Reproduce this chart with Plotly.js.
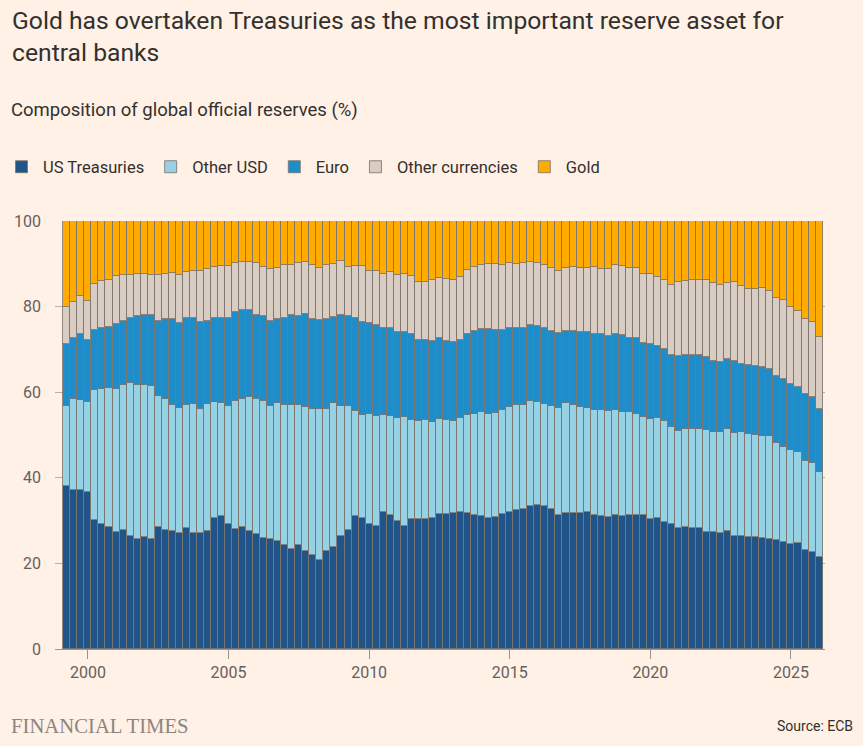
<!DOCTYPE html>
<html>
<head>
<meta charset="utf-8">
<script src="https://cdn.plot.ly/plotly-3.0.1.min.js"></script>
<style>
  html, body { margin: 0; padding: 0; background: #FFF1E5; }
  #chart { width: 863px; height: 746px; }
</style>
</head>
<body>
<div id="chart"></div>
<script>
// Quarterly data, 1999 Q1 to 2025 Q4 (shares of global official reserves, %)
const firstYear = 1999;
const nQuarters = 108;

const usTreasuries = [
  38.0, 37.1, 37.2, 36.6, 30.1, 29.3, 28.6, 27.4, 27.7, 26.3, 25.8, 26.2,
  25.6, 28.5, 27.8, 27.5, 27.1, 28.2, 27.2, 27.1, 27.5, 30.7, 31.0, 29.1,
  28.0, 28.5, 27.6, 26.8, 26.0, 25.7, 25.3, 24.4, 23.3, 24.2, 23.0, 21.9,
  20.8, 22.8, 23.8, 26.3, 27.9, 31.0, 30.5, 29.2, 28.7, 31.9, 31.2, 29.9,
  28.7, 30.3, 30.3, 30.3, 30.5, 31.6, 31.6, 31.7, 32.0, 31.7, 31.3, 31.0,
  30.7, 30.8, 31.5, 32.0, 32.5, 32.8, 33.5, 33.7, 33.3, 32.7, 31.3, 31.7,
  31.7, 31.7, 31.9, 31.3, 31.0, 30.9, 31.4, 31.0, 31.3, 31.4, 31.2, 30.3,
  30.5, 29.7, 29.1, 28.2, 28.6, 28.3, 28.2, 27.4, 27.4, 27.2, 27.5, 26.4,
  26.5, 26.2, 26.2, 25.9, 25.7, 25.4, 25.0, 24.5, 24.7, 23.2, 22.6, 21.5
];
const otherUSD = [
  18.8, 21.3, 21.0, 21.0, 30.3, 31.5, 32.3, 33.3, 34.0, 35.9, 36.0, 35.6,
  35.8, 30.6, 30.6, 29.4, 29.3, 28.7, 30.0, 29.0, 29.8, 27.0, 26.5, 27.6,
  29.9, 30.0, 31.2, 31.6, 31.9, 31.1, 32.1, 32.6, 33.7, 32.8, 33.6, 34.2,
  35.2, 33.3, 33.6, 30.5, 28.9, 24.6, 24.2, 25.6, 25.8, 22.8, 23.2, 24.1,
  25.4, 23.2, 23.0, 23.3, 22.6, 22.2, 21.8, 21.5, 21.9, 23.0, 23.7, 24.4,
  24.3, 24.3, 24.4, 24.5, 24.6, 24.2, 24.4, 24.1, 23.9, 24.1, 25.0, 25.7,
  25.4, 24.8, 24.4, 24.5, 24.8, 24.7, 24.4, 24.4, 24.0, 23.5, 23.1, 23.4,
  23.5, 23.6, 22.8, 22.8, 22.9, 23.1, 23.3, 23.8, 23.2, 23.6, 24.0, 24.1,
  24.3, 24.1, 23.9, 23.8, 24.0, 22.7, 22.2, 22.1, 21.4, 20.7, 20.8, 19.8
];
const euro = [
  14.5, 14.3, 15.3, 14.6, 14.1, 14.3, 14.3, 15.3, 15.0, 15.1, 15.9, 16.2,
  16.7, 17.6, 18.6, 20.1, 19.8, 20.5, 20.2, 20.4, 19.4, 19.6, 19.9, 20.7,
  20.9, 20.6, 20.3, 19.7, 19.8, 19.9, 19.8, 20.4, 21.1, 20.9, 21.7, 21.1,
  20.9, 21.0, 20.1, 21.3, 20.9, 21.7, 21.8, 21.4, 21.1, 20.3, 20.6, 20.0,
  20.0, 20.1, 19.0, 18.6, 18.8, 18.9, 18.6, 18.6, 18.3, 18.9, 19.2, 19.4,
  19.7, 19.5, 18.7, 18.5, 17.9, 18.0, 17.9, 17.6, 17.9, 17.5, 17.5, 17.0,
  17.1, 17.6, 17.7, 17.8, 17.8, 17.5, 17.7, 18.0, 17.4, 17.7, 17.3, 17.5,
  16.9, 16.8, 16.8, 17.5, 17.2, 17.3, 17.2, 17.1, 16.6, 16.3, 16.2, 16.9,
  15.9, 16.0, 16.0, 16.2, 15.8, 15.6, 15.8, 15.3, 15.2, 15.7, 15.5, 14.8
];
const otherCurrencies = [
   8.6,  8.3,  9.0,  9.0, 10.8, 10.9, 11.1, 11.1, 10.7, 10.1,  9.9,  9.6,
   9.2, 10.7, 10.6, 10.8, 11.1, 10.7, 10.9, 11.8, 12.1, 12.0, 12.0, 12.1,
  11.4, 11.4, 11.4, 12.0, 11.6, 12.0, 11.9, 12.3, 11.7, 12.2, 12.2, 12.5,
  12.1, 12.6, 12.5, 12.5, 11.6, 12.1, 12.9, 12.1, 12.7, 12.6, 13.1, 13.3,
  13.5, 13.5, 13.4, 13.6, 14.2, 14.0, 14.5, 14.4, 14.7, 14.9, 15.1, 15.0,
  15.2, 15.3, 15.1, 15.1, 15.0, 15.1, 14.6, 14.9, 14.6, 14.7, 14.6, 14.7,
  15.0, 14.9, 15.0, 15.7, 15.3, 15.8, 16.2, 16.0, 16.3, 16.4, 16.1, 16.5,
  16.0, 16.1, 16.4, 17.2, 17.3, 17.4, 17.5, 18.0, 18.3, 17.9, 17.8, 18.4,
  18.1, 17.9, 18.1, 18.5, 18.2, 18.3, 18.6, 18.1, 17.7, 17.5, 17.4, 16.9
];
const gold = [
  20.1, 19.0, 17.5, 18.8, 14.7, 14.0, 13.7, 12.9, 12.6, 12.6, 12.4, 12.4,
  12.7, 12.6, 12.4, 12.2, 12.7, 11.9, 11.7, 11.7, 11.2, 10.7, 10.6, 10.5,
   9.8,  9.5,  9.5,  9.9, 10.7, 11.3, 10.9, 10.3, 10.2,  9.9,  9.5, 10.3,
  11.0, 10.3, 10.0,  9.4, 10.7, 10.6, 10.6, 11.7, 11.7, 12.4, 11.9, 12.7,
  12.4, 12.9, 14.3, 14.2, 13.9, 13.3, 13.5, 13.8, 13.1, 11.5, 10.7, 10.2,
  10.1, 10.1, 10.3,  9.9, 10.0,  9.9,  9.6,  9.7, 10.3, 11.0, 11.6, 10.9,
  10.8, 11.0, 11.0, 10.7, 11.1, 11.1, 10.3, 10.6, 11.0, 11.0, 12.3, 12.3,
  13.1, 13.8, 14.9, 14.3, 14.0, 13.9, 13.8, 13.7, 14.5, 15.0, 14.5, 14.2,
  15.2, 15.8, 15.8, 15.6, 16.3, 18.0, 18.4, 20.0, 21.0, 22.9, 23.7, 27.0
];

const seriesNames = ['US Treasuries', 'Other USD', 'Euro', 'Other currencies', 'Gold'];
const seriesColors = ['#215488', '#96D2E4', '#1F8DCA', '#D8CCC3', '#FFAB00'];
const seriesData = [usTreasuries, otherUSD, euro, otherCurrencies, gold];
const xTickVals = [2000, 2005, 2010, 2015, 2020, 2025];
const yTickVals = [0, 20, 40, 60, 80, 100];

// x position of each quarter = end of the quarter (fractional year)
const xPos = [];
const qLabels = [];
for (let i = 0; i < nQuarters; i++) {
  const y = firstYear + Math.floor(i / 4);
  const q = (i % 4) + 1;
  xPos.push(y + q * 0.25);
  qLabels.push(y + ' Q' + q);
}

const traces = seriesNames.map((name, k) => ({
  type: 'bar',
  name: name,
  x: xPos,
  y: seriesData[k],
  width: 0.25,
  text: qLabels,
  hovertemplate: '%{text}<br>' + name + ': %{y:.1f}%<extra></extra>',
  textposition: 'none',
  marker: { color: seriesColors[k], line: { color: 'rgba(125,118,112,0.85)', width: 1 } }
}));

const W = 863, H = 746;
const L = 55, R = 38, T = 221, B = 97;
const PW = W - L - R, PH = H - T - B;
const px = v => (v - L) / PW;          // pixel x -> paper x
const py = v => (H - B - v) / PH;      // pixel y -> paper y

const layout = {
  width: W, height: H,
  paper_bgcolor: '#FFF1E5', plot_bgcolor: '#FFF1E5',
  margin: { l: L, r: R, t: T, b: B, pad: 0, autoexpand: false },
  barmode: 'stack', bargap: 0,
  font: { family: 'Roboto, sans-serif', color: '#33302E' },
  title: {
    text: 'Gold has overtaken Treasuries as the most important reserve asset for<br>central banks',
    font: { family: 'Roboto, sans-serif', size: 24.7, color: '#33302E' },
    xref: 'container', yref: 'container', x: 12 / W, xanchor: 'left',
    y: 1 - 29 / H, yanchor: 'top'
  },
  showlegend: true,
  legend: {
    orientation: 'h', traceorder: 'normal',
    xref: 'container', yref: 'container',
    x: 0, xanchor: 'left', y: 1 - 167 / H, yanchor: 'middle',
    itemwidth: 33,
    font: { size: 16.5, color: '#33302E' },
    bgcolor: 'rgba(0,0,0,0)'
  },
  xaxis: {
    range: [1998.83, 2026.21], automargin: false,
    tickvals: xTickVals, ticktext: xTickVals.map(String),
    showgrid: false, zeroline: false,
    showline: true, linecolor: '#9a928b', linewidth: 1,
    ticks: 'outside', ticklen: 9, tickcolor: '#9a928b', tickwidth: 1,
    tickfont: { size: 16, color: '#66605C' }
  },
  yaxis: {
    range: [0, 100], automargin: false,
    tickvals: yTickVals,
    showgrid: true, gridcolor: '#b8afa7', gridwidth: 1,
    zeroline: false, showline: false,
    ticks: '', ticklabelstandoff: 13,
    tickfont: { size: 16, color: '#66605C' }
  },
  annotations: [
    { text: 'Composition of global official reserves (%)', xref: 'paper', yref: 'paper',
      x: px(9), y: py(110), xanchor: 'left', yanchor: 'middle', showarrow: false,
      font: { size: 18.5, color: '#33302E' } },
    { text: 'FINANCIAL TIMES', xref: 'paper', yref: 'paper',
      x: px(9), y: py(726), xanchor: 'left', yanchor: 'middle', showarrow: false,
      font: { family: '"Liberation Serif", serif', size: 20.7, color: '#8C8580' } },
    { text: 'Source: ECB', xref: 'paper', yref: 'paper',
      x: px(855), y: py(726), xanchor: 'right', yanchor: 'middle', showarrow: false,
      font: { size: 14, color: '#33302E' } }
  ]
};

Plotly.newPlot('chart', traces, layout, { displayModeBar: false });
</script>
</body>
</html>
